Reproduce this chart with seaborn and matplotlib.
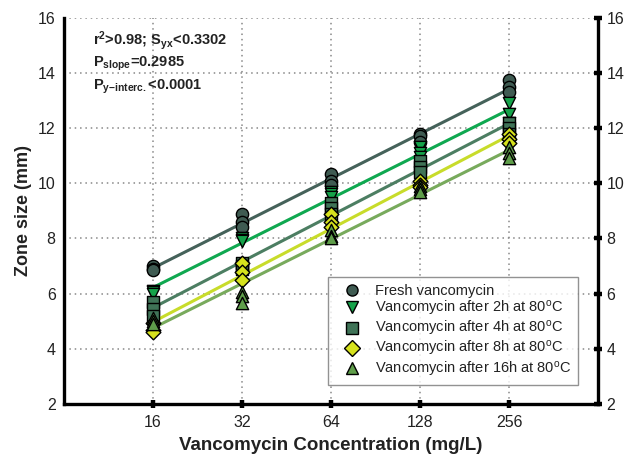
import numpy as np
import pandas as pd
import seaborn as sns
import matplotlib.pyplot as plt
from matplotlib.lines import Line2D

# concentrations (mg/L) and zone sizes (mm), three replicates per point
conc = [16, 32, 64, 128, 256]
fresh = [[7.0, 6.9, 6.85], [8.9, 8.6, 8.4], [10.35, 10.1, 9.95], [11.8, 11.7, 11.5], [13.75, 13.5, 13.3]]
h2 = [[6.1, 6.05, 6.0], [8.0, 7.95, 7.9], [9.7, 9.6, 9.5], [11.3, 11.1, 10.95], [12.9, 12.5, 12.2]]
h4 = [[5.7, 5.45, 5.2], [7.1, 7.0, 6.9], [9.3, 9.1, 8.9], [10.8, 10.6, 10.4], [12.2, 12.0, 11.8]]
h8 = [[4.95, 4.7, 4.6], [7.1, 6.8, 6.5], [8.9, 8.6, 8.4], [10.1, 9.95, 9.85], [11.8, 11.6, 11.45]]
h16 = [[5.1, 5.0, 4.9], [6.05, 5.9, 5.65], [8.3, 8.1, 8.0], [9.9, 9.8, 9.7], [11.3, 11.1, 10.9]]

names = ['Fresh vancomycin',
         'Vancomycin after 2h at 80$^{\\mathregular{o}}$C',
         'Vancomycin after 4h at 80$^{\\mathregular{o}}$C',
         'Vancomycin after 8h at 80$^{\\mathregular{o}}$C',
         'Vancomycin after 16h at 80$^{\\mathregular{o}}$C']
series = [fresh, h2, h4, h8, h16]
markers = ['o', 'v', 's', 'D', '^']
mk_colors = ['#3f5b52', '#15a34a', '#3f7357', '#d6e21e', '#5f9e4a']
ln_colors = ['#45625a', '#0fa850', '#4c7e62', '#c8dc2a', '#78aa5c']
mk_sizes = [78, 78, 64, 56, 78]

rows = []
for name, vals in zip(names, series):
    for c, reps in zip(conc, vals):
        for v in reps:
            rows.append({'group': name, 'conc': c, 'zone': v})
df = pd.DataFrame(rows)

sns.set_style('white')
plt.rcParams['font.family'] = ['Liberation Sans', 'DejaVu Sans']
plt.rcParams['mathtext.default'] = 'regular'

fig = plt.figure(figsize=(6.24, 4.57), dpi=100)
ax = fig.add_axes([0.1026, 0.116, 0.856, 0.845])
ax.set_xscale('log', base=2)

# regression lines on log2 concentration
for i, name in enumerate(names):
    d = df[df['group'] == name]
    k, b = np.polyfit(np.log2(d['conc']), d['zone'], 1)
    xs = np.array([conc[0], conc[-1]])
    ax.plot(xs, k * np.log2(xs) + b, color=ln_colors[i], lw=2.2, zorder=2)

for i, name in enumerate(names):
    d = df[df['group'] == name]
    sns.scatterplot(data=d, x='conc', y='zone', ax=ax, marker=markers[i],
                    color=mk_colors[i], s=mk_sizes[i], edgecolor='black',
                    linewidth=1.0, zorder=3 + i, legend=False)

ax.set_xlim(8, 512)
ax.set_ylim(2, 16)
ax.set_xticks(conc)
ax.set_xticklabels([str(c) for c in conc])
ax.minorticks_off()
ax.set_yticks(range(2, 17, 2))
ax.grid(True, ls=(0, (1, 2.5)), color='#888888', lw=1.1)
ax.set_axisbelow(True)

for s in ['left', 'right', 'bottom']:
    ax.spines[s].set_linewidth(2.4)
    ax.spines[s].set_color('black')
ax.spines['top'].set_visible(False)
ax.tick_params(axis='both', direction='inout', length=6, width=3.2,
               labelsize=11.5, labelcolor='#222222', color='black', pad=4)
ax.tick_params(axis='y', right=True, labelright=True, pad=3)
ax.tick_params(axis='x', bottom=True, pad=5)

ax.set_xlabel('Vancomycin Concentration (mg/L)', fontsize=13.5, fontweight='bold',
              color='#222222', labelpad=5)
ax.set_ylabel('Zone size (mm)', fontsize=13, fontweight='bold', color='#222222',
              labelpad=4)

ax.text(0.054, 0.941, 'r$^{2}$>0.98; S$_{yx}$<0.3302', transform=ax.transAxes,
        fontsize=10.5, fontweight='bold', va='center', color='#222222')
ax.text(0.054, 0.881, 'P$_{slope}$=0.2985', transform=ax.transAxes,
        fontsize=10.5, fontweight='bold', va='center', color='#222222')
ax.text(0.054, 0.822, 'P$_{y\\mathregular{-}interc.}$<0.0001', transform=ax.transAxes,
        fontsize=10.5, fontweight='bold', va='center', color='#222222')

handles = [Line2D([], [], ls='none', marker=markers[i], markersize=8,
                  markerfacecolor=mk_colors[i], markeredgecolor='black',
                  markeredgewidth=1.0) for i in range(len(names))]
leg = ax.legend(handles, names, loc='lower right', bbox_to_anchor=(0.962, 0.049),
                fontsize=10.5, frameon=True, fancybox=False, handletextpad=0.4,
                handlelength=2.4, borderpad=0.45, labelspacing=0.08, borderaxespad=0)
leg.get_frame().set_edgecolor('#777777')
leg.get_frame().set_linewidth(1.0)
for t in leg.get_texts():
    t.set_color('#222222')

fig.savefig('out.png', dpi=100)
